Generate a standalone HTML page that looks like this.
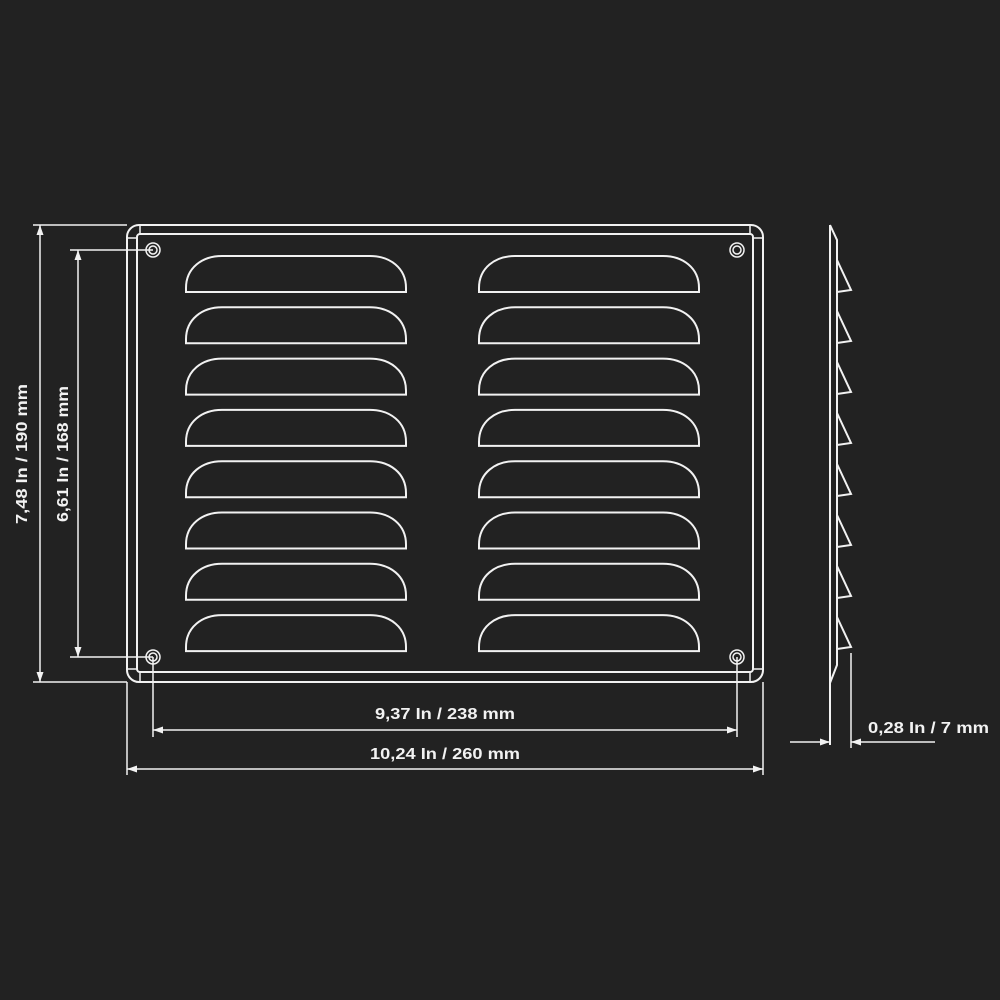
<!DOCTYPE html>
<html><head><meta charset="utf-8"><style>
html,body{margin:0;padding:0;background:#222222;}
svg{display:block;}
text{font-family:"Liberation Sans",sans-serif;font-weight:bold;fill:#f2f2f2;}
</style></head><body>
<svg width="1000" height="1000" viewBox="0 0 1000 1000" xmlns="http://www.w3.org/2000/svg">
<rect width="1000" height="1000" fill="#222222"/>
<defs>
<path id="lv" d="M186 292 L186 288 C186 268 202 256 222 256 L370 256 C390 256 406 268 406 288 L406 292 Z" fill="none" stroke="#f2f2f2" stroke-width="2"/>
</defs>
<g fill="none" stroke="#f2f2f2">
<!-- frame -->
<rect x="127" y="225" width="636" height="457" rx="12" stroke-width="2"/>
<rect x="137" y="234" width="616" height="438" rx="3" stroke-width="2"/>
<path d="M140 225 V234 M127 238 H137 M750 225 V234 M753 238 H763 M140 672 V682 M127 669 H137 M750 672 V682 M753 669 H763" stroke-width="1.5"/>
<!-- holes -->
<g stroke-width="1.5">
<circle cx="153" cy="250" r="7"/><circle cx="153" cy="250" r="4"/>
<circle cx="737" cy="250" r="7"/><circle cx="737" cy="250" r="4"/>
<circle cx="153" cy="657" r="7"/><circle cx="153" cy="657" r="4"/>
<circle cx="737" cy="657" r="7"/><circle cx="737" cy="657" r="4"/>
</g>
<!-- side view -->
<g stroke-width="2" stroke-linejoin="miter">
<path d="M830 225 L837 240 L837 665 L830 683"/>
<path d="M830 225 V745"/>
<path d="M837 260 L851 290 L837 292"/>
<path d="M837 311 L851 341 L837 343"/>
<path d="M837 362 L851 392 L837 394"/>
<path d="M837 413 L851 443 L837 445"/>
<path d="M837 464 L851 494 L837 496"/>
<path d="M837 515 L851 545 L837 547"/>
<path d="M837 566 L851 596 L837 598"/>
<path d="M837 617 L851 647 L837 649"/>
</g>
<!-- dimension lines -->
<g stroke-width="1.5">
<path d="M33 225 H127 M33 682 H127 M40 225 V682"/>
<path d="M70 250 H153 M70 657 H153 M78 250 V657"/>
<path d="M153 657 V737 M737 657 V737 M153 730 H737"/>
<path d="M127 682 V775 M763 682 V775 M127 769 H763"/>
<path d="M851 653 V748 M790 742 H830 M851 742 H935"/>
</g>
</g>
<!-- louvers -->
<g>
<use href="#lv"/><use href="#lv" y="51.3"/><use href="#lv" y="102.6"/><use href="#lv" y="153.9"/>
<use href="#lv" y="205.2"/><use href="#lv" y="256.5"/><use href="#lv" y="307.8"/><use href="#lv" y="359.1"/>
<use href="#lv" x="293"/><use href="#lv" x="293" y="51.3"/><use href="#lv" x="293" y="102.6"/><use href="#lv" x="293" y="153.9"/>
<use href="#lv" x="293" y="205.2"/><use href="#lv" x="293" y="256.5"/><use href="#lv" x="293" y="307.8"/><use href="#lv" x="293" y="359.1"/>
</g>
<!-- arrowheads -->
<g fill="#f2f2f2">
<path d="M40 225 l-3.5 10 h7 z"/><path d="M40 682 l-3.5 -10 h7 z"/>
<path d="M78 250 l-3.5 10 h7 z"/><path d="M78 657 l-3.5 -10 h7 z"/>
<path d="M153 730 l10 -3.5 v7 z"/><path d="M737 730 l-10 -3.5 v7 z"/>
<path d="M127 769 l10 -3.5 v7 z"/><path d="M763 769 l-10 -3.5 v7 z"/>
<path d="M830 742 l-10 -3.5 v7 z"/><path d="M851 742 l10 -3.5 v7 z"/>
</g>
<!-- labels -->
<text x="375" y="719" font-size="16" textLength="140" lengthAdjust="spacingAndGlyphs">9,37 In / 238 mm</text>
<text x="370" y="759" font-size="16" textLength="150" lengthAdjust="spacingAndGlyphs">10,24 In / 260 mm</text>
<text x="868" y="733" font-size="16" textLength="121" lengthAdjust="spacingAndGlyphs">0,28 In / 7 mm</text>
<text transform="translate(27,454) rotate(-90)" text-anchor="middle" font-size="16" textLength="140" lengthAdjust="spacingAndGlyphs">7,48 In / 190 mm</text>
<text transform="translate(68,454) rotate(-90)" text-anchor="middle" font-size="16" textLength="136" lengthAdjust="spacingAndGlyphs">6,61 In / 168 mm</text>
</svg>
</body></html>
